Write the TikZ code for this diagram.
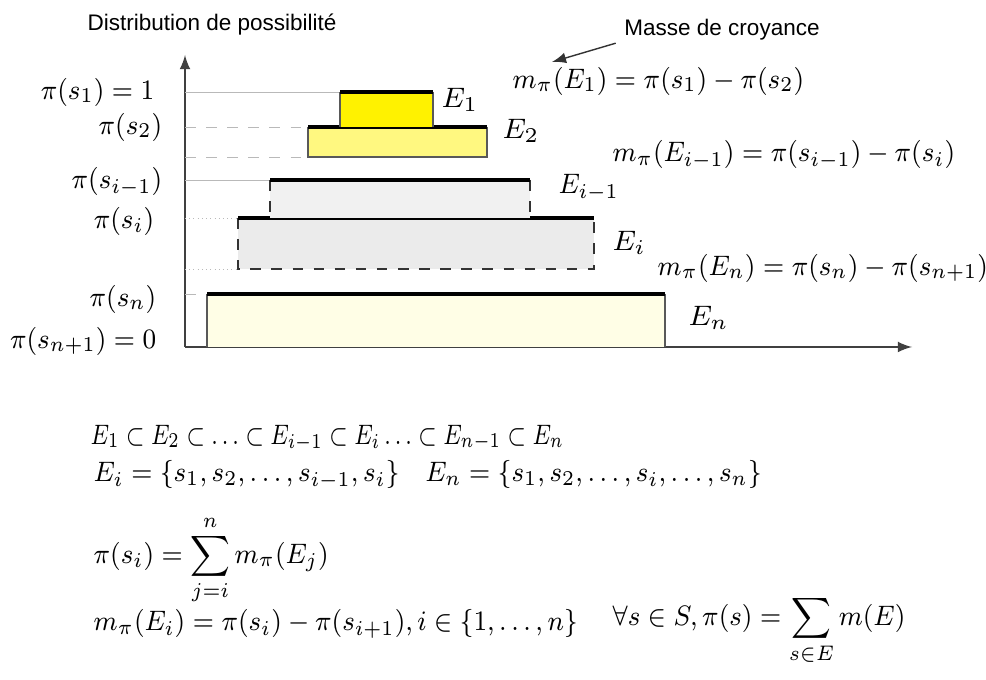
\documentclass[tikz,border=0pt]{standalone}
\usepackage{amsmath,amssymb}
\usepackage{graphicx}
\usepackage{fontspec}
\newfontfamily\labelfont{Liberation Sans}
\usetikzlibrary{arrows,positioning}
\newcommand{\mathsize}{\fontsize{8.1}{10}\selectfont}
\newcommand{\narrow}[2][0.91]{\scalebox{#1}[1]{#2}}

\begin{document}
\begin{tikzpicture}[
        x=0.01cm, y=-0.01cm,
        axis/.style={draw, -latex, thin, black!75},
        guide/.style={draw, gray!55, very thin},
        topedge/.style={draw, very thick, black},
        sideline/.style={draw, gray!70!black, thin},
        dashside/.style={draw, black!80, thin, dashed},
        lbl/.style={anchor=east, inner sep=0pt, font=\mathsize},
        setname/.style={anchor=west, inner sep=0pt, font=\mathsize},
        formula/.style={anchor=west, inner sep=0pt, font=\mathsize},
        note/.style={font=\labelfont\fontsize{6.4}{7}\selectfont, inner sep=0pt}
    ]
    \useasboundingbox (0,0) rectangle (986,680);
    % axes
    \coordinate (origin) at (185,347);
    \coordinate (ytop) at (185,55);
    \coordinate (xend) at (912,347);
    \path [axis] (origin) -- (ytop);
    \path [axis] (origin) -- (xend);
    \node [note] (title) at (212,25) {Distribution de possibilit\'e};
    % guide lines
    \path [guide] (185,92) -- (340,92);
    \path [guide, dashed] (185,127) -- (308,127);
    \path [guide, dashed] (185,157) -- (308,157);
    \path [guide] (185,180) -- (270,180);
    \path [guide, densely dotted] (185,218) -- (238,218);
    \path [guide, densely dotted] (185,269) -- (238,269);
    \path [guide, dashed] (185,294) -- (207,294);
    % focal sets
    \fill [yellow!10] (207,294) rectangle (665,347);
    \path [sideline] (207,347) -- (207,294) (665,294) -- (665,347);
    \path [topedge] (207,294) -- (665,294);
    \fill [gray!16] (238,218) rectangle (594,269);
    \path [dashside] (238,218) -- (238,269) -- (594,269) -- (594,218);
    \path [topedge] (238,218) -- (594,218);
    \fill [gray!11] (270,180) rectangle (530,218);
    \path [dashside] (270,180) -- (270,218) (530,180) -- (530,218);
    \path [topedge] (270,180) -- (530,180);
    \fill [yellow!50] (308,127) rectangle (487,157);
    \path [sideline] (308,127) -- (308,157) -- (487,157) -- (487,127);
    \path [topedge] (308,127) -- (487,127);
    \fill [yellow] (340,92) rectangle (433,127);
    \path [sideline] (340,127) -- (340,92) (433,92) -- (433,127);
    \path [topedge] (340,92) -- (433,92);
    % set names
    \node [setname] (e1) at (441,100) {$E_1$};
    \node [setname] (e2) at (502,131) {$E_2$};
    \node [setname] (ei1) at (558,188) {\narrow{$E_{i-1}$}};
    \node [setname] (ei) at (612,243) {$E_i$};
    \node [setname] (en) at (688,318) {$E_n$};
    % levels
    \node [lbl] (p1) at (155,92) {\narrow{$\pi(s_1) = 1$}};
    \node [lbl] (p2) at (163,127) {\narrow{$\pi(s_2)$}};
    \node [lbl] (pi1) at (163,182) {\narrow{$\pi(s_{i-1})$}};
    \node [lbl] (pi) at (155,221) {\narrow{$\pi(s_i)$}};
    \node [lbl] (pn) at (157,299) {\narrow{$\pi(s_n)$}};
    \node [lbl] (pn1) at (157,341) {\narrow{$\pi(s_{n+1}) = 0$}};
    % masses
    \node [note] (masse) at (722,30) {Masse de croyance};
    \node [formula] (m1) at (512,81) {\narrow{$m_\pi(E_1) = \pi(s_1) - \pi(s_2)$}};
    \node [formula] (mi1) at (612,155) {\narrow{$m_\pi(E_{i-1}) = \pi(s_{i-1}) - \pi(s_i)$}};
    \node [formula] (mn) at (657,268) {\narrow{$m_\pi(E_n) = \pi(s_n) - \pi(s_{n+1})$}};
    \coordinate (tip) at (552,62);
    \draw [-latex, thin, black!80] (masse.south west) ++(-8,2) -- (tip);
    % relations
    \node [formula] (chain) at (90,438) {\narrow[0.79]{$E_1 \subset E_2 \subset \ldots \subset E_{i-1} \subset E_i \ldots \subset E_{n-1} \subset E_n$}};
    \node [formula] (sets) at (93,475) {\narrow{$E_i = \{s_1, s_2, \ldots, s_{i-1}, s_i\} \quad E_n = \{s_1, s_2, \ldots, s_i, \ldots, s_n\}$}};
    \node [formula] (sum) at (93,560) {\narrow{$\displaystyle \pi(s_i) = \sum_{j=i}^{n} m_\pi(E_j)$}};
    \node [formula] (mass) at (93,624) {\narrow{$m_\pi(E_i) = \pi(s_i) - \pi(s_{i+1}), i \in \{1, \ldots, n\}$}};
    \node [formula] (forall) at (612,631) {\narrow{$\displaystyle {\textstyle\forall s \in S, \pi(s)} = \sum_{s \in E} m(E)$}};
\end{tikzpicture}
\end{document}
